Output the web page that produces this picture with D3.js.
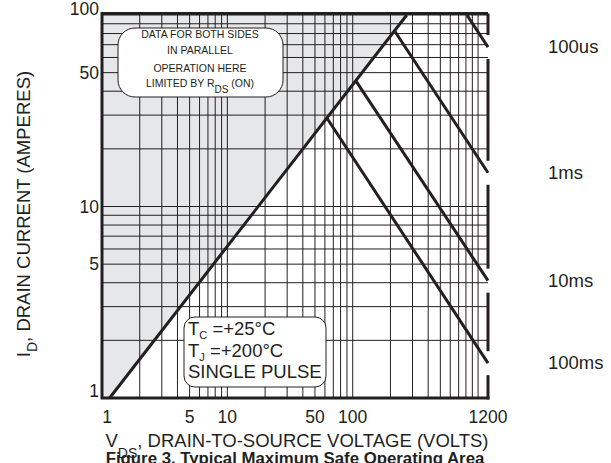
<!DOCTYPE html>
<html lang="en">
<head>
<meta charset="utf-8">
<title>Typical Maximum Safe Operating Area</title>
<style>
  html,body{margin:0;background:#fff;}
  svg{display:block;font-family:"Liberation Sans",Arial,Helvetica,sans-serif;}
</style>
</head>
<body>
<div id="chart"></div>
<script src="https://cdn.jsdelivr.net/npm/d3@7"></script>
<script>
// axis ticks and grid
const xTicks = [1, 5, 10, 50, 100, 1200];
const yTicks = [1, 5, 10, 50, 100];
const gridX = [1,2,3,4,5,6,7,8,9,10,20,30,40,50,60,70,80,90,100,200,300,400,500,600,700,800,900,1000];
const gridY = [1,2,3,4,5,6,7,8,9,10,20,30,40,50,60,70,80,90,100];

// RDS(on) limit line and the shaded area left of it
const rdsLine = [[1.15, 1], [270, 100]];
const shadeArea = [[1, 1], [1.15, 1], [270, 100], [1, 100]];

// single pulse limits (start on RDS line, end at 1200 V)
const pulseNames = ["100us", "1ms", "10ms", "100ms"];
const pulseLines = [
  [[815, 100], [1200, 68]],
  [[216, 82.5], [1200, 15]],
  [[106, 45.3], [1200, 4.1]],
  [[62.2, 29], [1200, 1.52]]
];

const W = 611, H = 463;
const ink = "#231f20";

const svg = d3.select("#chart").append("svg")
  .attr("width", W).attr("height", H);

const x = d3.scaleLog().domain([1, 1200]).range([102, 488]);
const y = d3.scaleLog().domain([1, 100]).range([398, 15]);

const line = d3.line().x(d => x(d[0])).y(d => y(d[1]));

// shading
svg.append("path")
  .attr("d", line(shadeArea) + "Z")
  .attr("fill", "#e6e7e8");

// grid
svg.append("g").selectAll("line").data(gridX).enter().append("line")
  .attr("x1", d => x(d)).attr("x2", d => x(d))
  .attr("y1", y(1)).attr("y2", y(100))
  .attr("stroke", ink).attr("stroke-width", 1);
svg.append("g").selectAll("line").data(gridY).enter().append("line")
  .attr("x1", x(1)).attr("x2", x(1200))
  .attr("y1", d => y(d)).attr("y2", d => y(d))
  .attr("stroke", ink).attr("stroke-width", 1);

// frame: right side broken where the pulse lines meet it
const x0 = x(1), x1 = x(1200), y0 = y(100), y1 = y(1);
const frame = svg.append("g").attr("stroke", ink).attr("stroke-width", 3).attr("fill", "none");
frame.append("path").attr("d", `M${x1},${y0 - 1.5}H${x0}V${y1}H${x1 + 1.5}`);
const gaps = pulseLines.map(p => y(p[1][1])).sort((a, b) => a - b);
let cur = y0 - 1.5;
gaps.forEach(g => {
  frame.append("line").attr("x1", x1).attr("x2", x1).attr("y1", cur).attr("y2", g - 12);
  cur = g + 12;
});
frame.append("line").attr("x1", x1).attr("x2", x1).attr("y1", cur).attr("y2", y1 + 1.5);

// limit lines
svg.append("path").attr("d", line(rdsLine))
  .attr("fill", "none").attr("stroke", ink).attr("stroke-width", 3);
svg.append("g").selectAll("path").data(pulseLines).enter().append("path")
  .attr("d", d => line(d))
  .attr("fill", "none").attr("stroke", ink).attr("stroke-width", 3);

// pulse labels
svg.append("g").selectAll("text").data(pulseLines).enter().append("text")
  .attr("x", 548)
  .attr("y", d => y(d[1][1]) + 6)
  .attr("font-size", 18.5).attr("fill", ink)
  .text((d, i) => pulseNames[i]);

// tick labels
svg.append("g").selectAll("text").data(xTicks).enter().append("text")
  .attr("x", d => x(d) + (d === 1 ? 5 : 0))
  .attr("y", 423)
  .attr("text-anchor", "middle")
  .attr("font-size", 17.5).attr("fill", ink)
  .text(d => d);
svg.append("g").selectAll("text").data(yTicks).enter().append("text")
  .attr("x", 99)
  .attr("y", d => d === 1 ? y(d) - 1 : d === 100 ? y(d) : y(d) + 6)
  .attr("text-anchor", "end")
  .attr("font-size", 17.5).attr("fill", ink)
  .text(d => d);

// axis titles
const xt = svg.append("text").attr("x", 297).attr("y", 447)
  .attr("text-anchor", "middle").attr("font-size", 18.5).attr("fill", ink);
xt.append("tspan").text("V");
xt.append("tspan").attr("font-size", 14).attr("dy", 11).text("DS");
xt.append("tspan").attr("dy", -11).text(", DRAIN-TO-SOURCE VOLTAGE (VOLTS)");

const yt = svg.append("text")
  .attr("transform", "translate(30,214) rotate(-90)")
  .attr("text-anchor", "middle").attr("font-size", 18.5).attr("fill", ink);
yt.append("tspan").text("I");
yt.append("tspan").attr("font-size", 14).attr("dy", 7).text("D");
yt.append("tspan").attr("dy", -7).text(", DRAIN CURRENT (AMPERES)");

// caption
svg.append("text").attr("x", 295).attr("y", 464)
  .attr("text-anchor", "middle").attr("font-size", 16.8).attr("font-weight", "bold")
  .attr("fill", ink).text("Figure 3. Typical  Maximum Safe Operating Area");

// note box, top left
svg.append("rect").attr("x", 118).attr("y", 28).attr("width", 165).attr("height", 69)
  .attr("rx", 17).attr("fill", "#fff").attr("stroke", ink).attr("stroke-width", 1);
const note = ["DATA FOR BOTH SIDES", "IN PARALLEL", "OPERATION HERE"];
svg.append("g").selectAll("text").data(note).enter().append("text")
  .attr("x", 200).attr("y", (d, i) => [38, 54, 72][i])
  .attr("text-anchor", "middle").attr("font-size", 10.5).attr("fill", ink)
  .text(d => d);
const lim = svg.append("text").attr("x", 200).attr("y", 87)
  .attr("text-anchor", "middle").attr("font-size", 10.5).attr("fill", ink);
lim.append("tspan").text("LIMITED BY R");
lim.append("tspan").attr("dy", 6).attr("font-size", 10).text("DS");
lim.append("tspan").attr("dy", -6).text(" (ON)");

// conditions box
svg.append("rect").attr("x", 184).attr("y", 317).attr("width", 142).attr("height", 70)
  .attr("rx", 11).attr("fill", "#fff").attr("stroke", ink).attr("stroke-width", 1);
const cond = [["T", "C", " =+25°C", 335], ["T", "J", " =+200°C", 357]];
cond.forEach(c => {
  const t = svg.append("text").attr("x", 188).attr("y", c[3])
    .attr("font-size", 18.5).attr("fill", ink);
  t.append("tspan").text(c[0]);
  t.append("tspan").attr("font-size", 11).attr("dy", 4).text(c[1]);
  t.append("tspan").attr("dy", -4).text(c[2]);
});
svg.append("text").attr("x", 188).attr("y", 378)
  .attr("font-size", 18.5).attr("fill", ink).text("SINGLE PULSE");
</script>
</body>
</html>
